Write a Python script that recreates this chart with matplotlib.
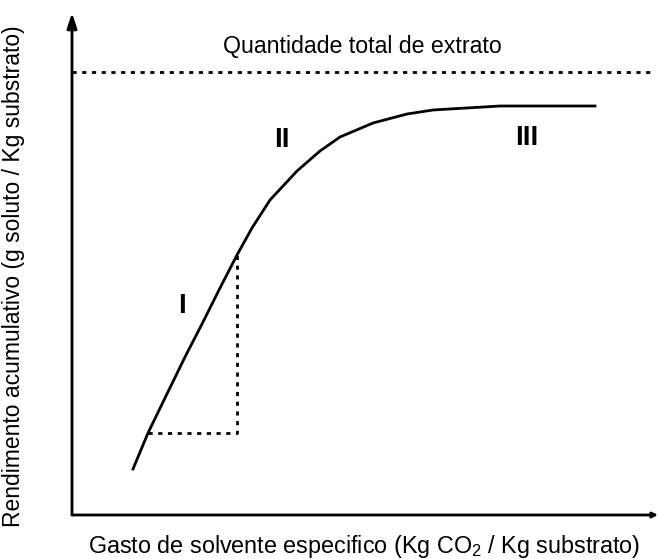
import numpy as np
import matplotlib
matplotlib.use("Agg")
from matplotlib import pyplot as plt

plt.rcParams['font.family'] = ['Liberation Sans', 'DejaVu Sans']
plt.rcParams['mathtext.fontset'] = 'custom'
plt.rcParams['mathtext.rm'] = 'Liberation Sans'
plt.rcParams['mathtext.it'] = 'Liberation Sans'

# curva de extracao (unidades arbitrarias)
gasto = [61, 76, 93, 113, 131, 148, 165, 180, 198, 225, 248, 268, 301, 335, 361, 428, 523]
rendimento = [46, 82, 117, 158, 193, 227, 260, 287, 315, 344, 364, 378, 392, 401, 405, 409, 409]

total = 443           # quantidade total de extrato
ponto_a = (76, 82)    # inicio do triangulo pontilhado
ponto_b = (165, 263)  # fim da etapa I

regioes = ["I", "II", "III"]
regioes_x = [110, 210, 455]
regioes_y = [209, 375, 377]

fig = plt.figure(figsize=(6.59, 5.59), dpi=100)
ax = fig.add_axes([72 / 659, 44 / 559, 587 / 659, 502 / 559])
ax.set_xlim(0, 587)
ax.set_ylim(0, 502)
ax.axis("off")

# eixos com setas
ax.annotate("", xy=(0, 502), xytext=(0, 0),
            arrowprops=dict(arrowstyle="-|>,head_length=0.9,head_width=0.3", lw=2, color="black", shrinkA=0, shrinkB=0))
ax.annotate("", xy=(586, 0), xytext=(0, 0),
            arrowprops=dict(arrowstyle="-|>,head_length=0.3,head_width=0.15", lw=2, color="black", shrinkA=0, shrinkB=0))

ax.plot(gasto, rendimento, color="black", lw=2, solid_joinstyle="round")
ax.plot([0, 583], [total, total], color="black", lw=2, linestyle=(0, (1.5, 2)))
ax.plot([ponto_a[0], ponto_b[0], ponto_b[0]], [ponto_a[1], ponto_a[1], ponto_b[1]],
        color="black", lw=2, linestyle=(0, (1.5, 2)))

for r, x, y in zip(regioes, regioes_x, regioes_y):
    ax.text(x, y, r, fontsize=20, fontweight="bold", ha="center", va="center")

ax.text(290, 469, "Quantidade total de extrato", fontsize=16.7, ha="center", va="center")

fig.text(364 / 659, 1 - 547 / 559, "Gasto de solvente especifico (Kg CO$_2$ / Kg substrato)",
         fontsize=16.8, ha="center", va="center")
fig.text(14 / 659, 1 - 276 / 559, "Rendimento acumulativo (g soluto / Kg substrato)",
         fontsize=16.5, ha="center", va="center", rotation=90)

fig.savefig("out.png", dpi=100)
